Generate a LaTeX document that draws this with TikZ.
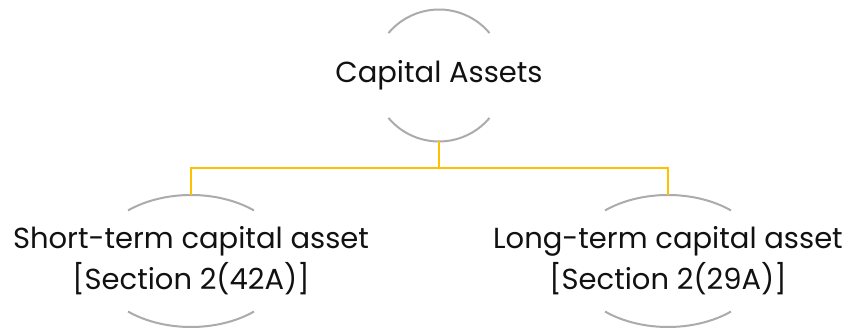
\documentclass[tikz,border=0pt]{standalone}
\usepackage{fontspec}
\setmainfont{Poppins}
\usepackage{xcolor}
\usepackage{tikz}
\usetikzlibrary{positioning,calc}
\definecolor{ink}{HTML}{111111}
\definecolor{ring}{HTML}{ABABAB}
\definecolor{gold}{HTML}{FFC000}
\tikzset{
  lbl/.style  ={align=center, text=ink, inner sep=0pt, font=\fontsize{29}{41}\selectfont},
  arcg/.style ={draw=ring, line width=2pt},
  link/.style ={draw=gold, line width=2pt},
}

\begin{document}
\begin{tikzpicture}[x=1pt,y=1pt]
  \useasboundingbox (0,0) rectangle (849,331);
  % --- root ---
  \node[lbl] (cap) at (439,255.5) {Capital Assets};
  \draw[arcg] (cap.center) ++(40:66) arc[start angle=40,end angle=140,radius=66];
  \draw[arcg] (cap.center) ++(220:66) arc[start angle=220,end angle=320,radius=66];
  % --- children ---
  \node[lbl] (st) at (191,70) {Short-term capital asset\\{}[Section 2(42A)]};
  \node[lbl] (lt) at (668,70) {Long-term capital asset\\{}[Section 2(29A)]};
  \foreach \n in {st,lt}{
    \draw[arcg] (\n.center) ++(50:98 and 66) arc[start angle=50,end angle=130,x radius=98,y radius=66];
    \draw[arcg] (\n.center) ++(230:98 and 66) arc[start angle=230,end angle=310,x radius=98,y radius=66];
  }
  % connector ends on the rings
  \coordinate (capbot) at ([yshift=-66pt]cap.center);
  \coordinate (sttop) at ([yshift=66pt]st.center);
  \coordinate (lttop) at ([yshift=66pt]lt.center);
  \draw[link] (capbot) -- ++(0,-27) -| (sttop);
  \draw[link] (capbot) -- ++(0,-27) -| (lttop);
\end{tikzpicture}
\end{document}
